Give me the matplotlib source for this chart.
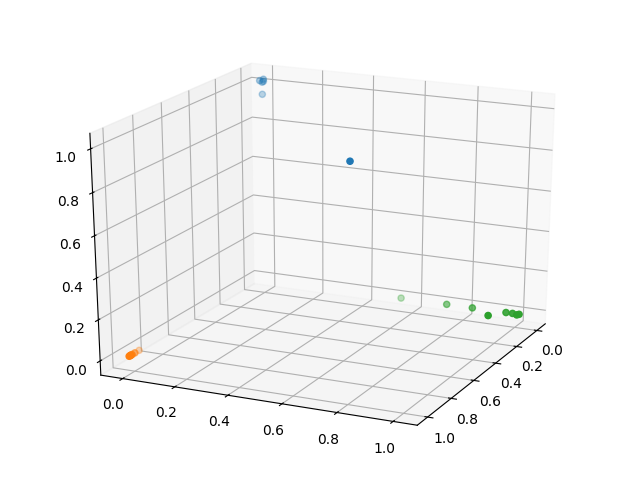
import numpy as np
import matplotlib
matplotlib.use("Agg")
import matplotlib.pyplot as plt
from mpl_toolkits.mplot3d import Axes3D

# cluster points
blue_x = [0.0, 0.01, 0.0, 0.0, 0.0, 0.3]
blue_y = [0.005, -0.005, 0.005, 0.0, 0.0, 0.485]
blue_z = [1.025, 1.02, 1.015, 1.01, 0.95, 0.78]

orange_x = [1.0, 1.0, 0.99, 0.98, 0.96, 0.93]
orange_y = [-0.02, -0.015, -0.02, -0.02, -0.02, -0.02]
orange_z = [0.0, 0.005, 0.0, 0.0, 0.0, 0.0]

green_x = [0.0, 0.01, 0.0, 0.0, 0.06, 0.0, 0.0, 0.0]
green_y = [1.015, 1.01, 0.99, 0.965, 0.92, 0.835, 0.735, 0.555]
green_z = [0.0, 0.0, 0.0, 0.0, 0.0, 0.0, 0.0, 0.0]

fig = plt.figure()
fig.subplots_adjust(left=0.1195, right=0.8945, bottom=0.118, top=0.888)
ax = fig.add_subplot(projection="3d")
ax.scatter(blue_x, blue_y, blue_z, clip_on=False)
ax.scatter(orange_x, orange_y, orange_z, clip_on=False)
ax.scatter(green_x, green_y, green_z, clip_on=False)
ax.view_init(elev=21, azim=25)
ax.set_box_aspect((1, 1, 0.96), zoom=1.18)
ax.set_xlim(-0.085, 1.085)
ax.set_ylim(-0.085, 1.085)
ax.set_zlim(-0.07, 1.07)
ax.set_xticks(np.arange(0, 1.01, 0.2))
ax.set_yticks(np.arange(0, 1.01, 0.2))
ax.set_zticks(np.arange(0, 1.01, 0.2))
ax.tick_params(axis="x", pad=-1)
ax.tick_params(axis="y", pad=0)
ax.tick_params(axis="z", pad=-1)

# stretch the cube to fill the subplot box, the plot isn't square
stretch = np.diag([1.30, 1, 1, 1])
ax.get_proj = lambda: stretch @ Axes3D.get_proj(ax)

fig.savefig("out.png", dpi=100)
